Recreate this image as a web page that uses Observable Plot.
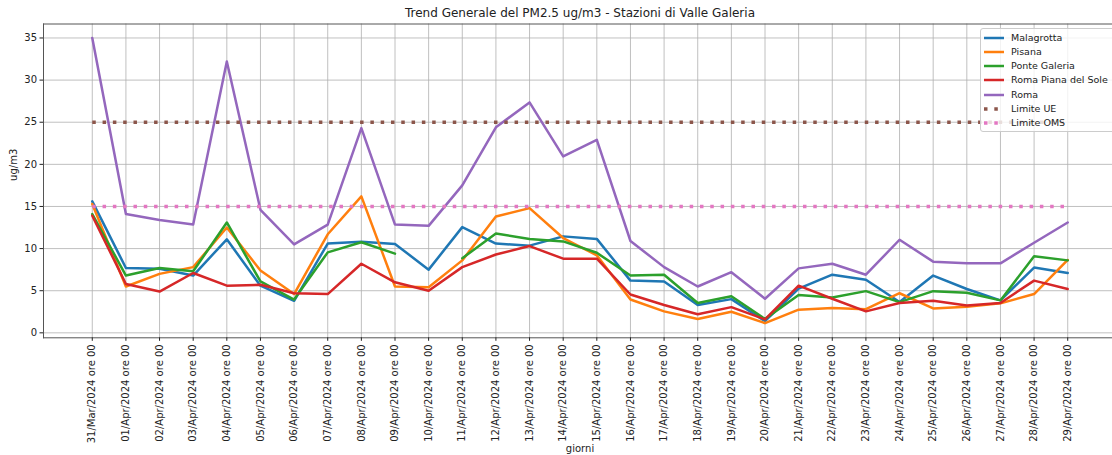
<!DOCTYPE html>
<html>
<head>
<meta charset="utf-8">
<script src="https://cdn.jsdelivr.net/npm/d3@7"></script>
<script src="https://cdn.jsdelivr.net/npm/@observablehq/plot@0.6"></script>
<style>
  body { margin: 0; background: #fff; font-family: "DejaVu Sans", sans-serif; }
  #wrap { position: relative; width: 1112px; height: 455px; overflow: hidden; background: #fff; }
  #legend { position: absolute; left: 980px; top: 28px; width: 150px; height: 104px;
    background: rgba(255,255,255,0.8); border: 1px solid #cccccc; border-radius: 3px; box-sizing: border-box; }
  .row { position: absolute; left: 2px; height: 14px; line-height: 14px; font-size: 9.5px; color: #222; white-space: nowrap; }
  .row svg { position: absolute; left: 0; top: 3px; }
  .row span { position: absolute; left: 28px; top: 0; }
</style>
</head>
<body>
<div id="wrap"><div id="legend"></div></div>
<script>
const titolo = "Trend Generale del PM2.5 ug/m3 - Stazioni di Valle Galeria";
const etichettaX = "giorni";
const etichettaY = "ug/m3";
const giorni = [
  "31/Mar/2024 ore 00", "01/Apr/2024 ore 00", "02/Apr/2024 ore 00", "03/Apr/2024 ore 00",
  "04/Apr/2024 ore 00", "05/Apr/2024 ore 00", "06/Apr/2024 ore 00", "07/Apr/2024 ore 00",
  "08/Apr/2024 ore 00", "09/Apr/2024 ore 00", "10/Apr/2024 ore 00", "11/Apr/2024 ore 00",
  "12/Apr/2024 ore 00", "13/Apr/2024 ore 00", "14/Apr/2024 ore 00", "15/Apr/2024 ore 00",
  "16/Apr/2024 ore 00", "17/Apr/2024 ore 00", "18/Apr/2024 ore 00", "19/Apr/2024 ore 00",
  "20/Apr/2024 ore 00", "21/Apr/2024 ore 00", "22/Apr/2024 ore 00", "23/Apr/2024 ore 00",
  "24/Apr/2024 ore 00", "25/Apr/2024 ore 00", "26/Apr/2024 ore 00", "27/Apr/2024 ore 00",
  "28/Apr/2024 ore 00", "29/Apr/2024 ore 00"
];
const malagrotta = [15.6, 7.7, 7.6, 6.8, 11.1, 5.6, 3.8, 10.6, 10.8, 10.55, 7.5, 12.55, 10.6, 10.35, 11.45,
  11.15, 6.2, 6.1, 3.3, 4.0, 1.4, 5.25, 6.9, 6.3, 3.65, 6.8, 5.2, 3.85, 7.75, 7.1];
const pisana = [15.3, 5.5, 7.0, 7.8, 12.5, 7.4, 4.6, 11.7, 16.2, 5.5, 5.4, 8.6, 13.8, 14.8, 11.25,
  9.2, 3.95, 2.55, 1.65, 2.5, 1.15, 2.75, 2.95, 2.8, 4.7, 2.9, 3.1, 3.5, 4.6, 8.65];
const ponteGaleria = [14.1, 6.8, 7.7, 7.3, 13.1, 6.1, 3.95, 9.55, 10.75, 9.4, NaN, 8.85, 11.8, 11.15, 10.85,
  9.5, 6.8, 6.9, 3.55, 4.35, 1.65, 4.5, 4.2, 4.95, 3.65, 4.95, 4.75, 3.85, 9.1, 8.6];
const pianaDelSole = [13.9, 5.8, 4.9, 7.1, 5.6, 5.7, 4.7, 4.6, 8.2, 6.0, 5.0, 7.8, 9.3, 10.3, 8.8,
  8.8, 4.55, 3.3, 2.2, 3.05, 1.6, 5.6, 4.05, 2.55, 3.55, 3.8, 3.25, 3.55, 6.2, 5.2];
const roma = [35.0, 14.1, 13.4, 12.85, 32.2, 14.6, 10.5, 12.85, 24.3, 12.85, 12.7, 17.5, 24.4, 27.35, 20.95,
  22.9, 10.9, 7.8, 5.5, 7.2, 4.05, 7.65, 8.2, 6.9, 11.05, 8.45, 8.25, 8.25, 10.7, 13.1];
const limiteUE = 25;
const limiteOMS = 15;
const yTicks = [0, 5, 10, 15, 20, 25, 30, 35];

const serieNomi = ["Malagrotta", "Pisana", "Ponte Galeria", "Roma Piana del Sole", "Roma"];
const serieValori = [malagrotta, pisana, ponteGaleria, pianaDelSole, roma];
const colori = ["#1f77b4", "#ff7f0e", "#2ca02c", "#d62728", "#9467bd"];
const limitiNomi = ["Limite UE", "Limite OMS"];
const limitiColori = ["#8c564b", "#e377c2"];

const idx = giorni.map((_, i) => i);
const righe = [];
serieNomi.forEach((nome, s) => serieValori[s].forEach((v, i) => righe.push({serie: nome, i, v})));
const ue = idx.map(i => ({i, v: limiteUE}));
const oms = idx.map(i => ({i, v: limiteOMS}));

const dots = "3.5,6.8";

const chart = Plot.plot({
  width: 1112,
  height: 455,
  marginTop: 23.5,
  marginLeft: 43,
  marginRight: 0,
  marginBottom: 117.7,
  style: {fontFamily: "DejaVu Sans", fontSize: "10px", color: "#222", background: "transparent"},
  x: {type: "linear", domain: [-1.45, 30.45], range: [43, 1116]},
  y: {domain: [-0.59, 36.66]},
  color: {domain: serieNomi, range: colori},
  marks: [
    Plot.gridX({ticks: idx, stroke: "#b0b0b0", strokeOpacity: 1, strokeWidth: 0.8}),
    Plot.gridY({ticks: yTicks, stroke: "#b0b0b0", strokeOpacity: 1, strokeWidth: 0.8}),
    Plot.frame({anchor: "top", stroke: "#555", strokeWidth: 1}),
    Plot.frame({anchor: "left", stroke: "#555", strokeWidth: 1}),
    Plot.frame({anchor: "bottom", stroke: "#555", strokeWidth: 1}),
    Plot.axisX({ticks: idx, tickFormat: i => giorni[i], tickRotate: -90, tickSize: 3.5, tickPadding: 3,
      label: null, fontSize: 10}),
    Plot.axisY({ticks: yTicks, tickSize: 3.5, tickPadding: 3, label: null, fontSize: 10}),
    Plot.line(righe, {x: "i", y: "v", z: "serie", stroke: "serie", strokeWidth: 2.5, curve: "linear"}),
    Plot.line(ue, {x: "i", y: "v", stroke: limitiColori[0], strokeWidth: 3.5, strokeDasharray: dots, strokeLinecap: "butt"}),
    Plot.line(oms, {x: "i", y: "v", stroke: limitiColori[1], strokeWidth: 3.5, strokeDasharray: dots, strokeLinecap: "butt"}),
    Plot.text([titolo], {frameAnchor: "top", dx: 2, dy: -10.5, lineAnchor: "middle", fontSize: 12, fill: "#222"}),
    Plot.text([etichettaX], {frameAnchor: "bottom", dx: 2, dy: 111, lineAnchor: "middle", fontSize: 10, fill: "#222"}),
    Plot.text([etichettaY], {frameAnchor: "left", dx: -30, rotate: -90, lineAnchor: "middle", fontSize: 10, fill: "#222"})
  ]
});
const wrap = document.getElementById("wrap");
wrap.insertBefore(chart, wrap.firstChild);

// legend
const legend = document.getElementById("legend");
const voci = serieNomi.map((n, k) => ({nome: n, colore: colori[k], dash: null}))
  .concat(limitiNomi.map((n, k) => ({nome: n, colore: limitiColori[k], dash: dots})));
voci.forEach((d, k) => {
  const row = document.createElement("div");
  row.className = "row";
  row.style.top = (1.5 + k * 14.3) + "px";
  const w = d.dash ? 3.5 : 2.5;
  row.innerHTML = `<svg width="22" height="8"><line x1="1" x2="21" y1="4" y2="4" stroke="${d.colore}" stroke-width="${w}" ${d.dash ? `stroke-dasharray="${d.dash}"` : ""}/></svg><span>${d.nome}</span>`;
  legend.appendChild(row);
});
</script>
</body>
</html>
